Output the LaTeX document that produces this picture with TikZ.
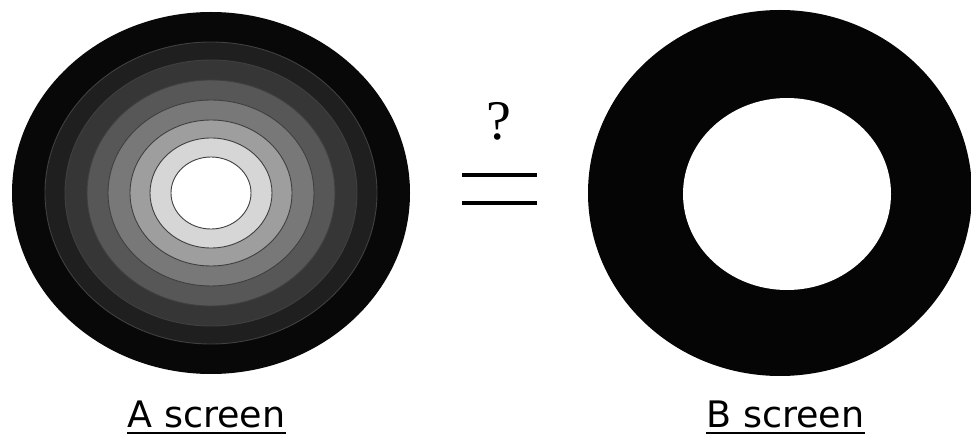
\documentclass[tikz,border=0pt]{standalone}
\usepackage{fontspec}
\setmainfont{Liberation Serif}
\newfontfamily\labelfont{DejaVu Sans}
\begin{document}
\begin{tikzpicture}[x=1pt,y=-1pt,
  ringline/.style={draw=black!75,line width=0.9pt},
  lab/.style={font=\labelfont\fontsize{36.5}{42}\selectfont,inner sep=0pt,anchor=base},
  bar/.style={line width=4pt},
  ul/.style={line width=1.8pt}]
\useasboundingbox (0,0) rectangle (971,435);
\fill[white] (0,0) rectangle (971,435);
% A screen: banded disk
\def\cx{211}\def\cy{193}
\fill[black!97] (\cx,\cy) ellipse [x radius=199pt,y radius=181pt];
\filldraw[fill=black!88,ringline] (\cx,\cy) ellipse [x radius=166pt,y radius=151pt];
\filldraw[fill=black!79,ringline] (\cx,\cy) ellipse [x radius=146pt,y radius=133pt];
\filldraw[fill=black!66,ringline] (\cx,\cy) ellipse [x radius=124pt,y radius=113pt];
\filldraw[fill=black!53,ringline] (\cx,\cy) ellipse [x radius=103pt,y radius=93pt];
\filldraw[fill=black!38,ringline] (\cx,\cy) ellipse [x radius=81pt,y radius=73pt];
\filldraw[fill=black!16,ringline] (\cx,\cy) ellipse [x radius=61pt,y radius=55pt];
\filldraw[fill=white,ringline] (\cx,\cy) ellipse [x radius=40pt,y radius=36pt];
% B screen: annulus
\begin{scope}
\clip (0,0) rectangle (971,435);
\fill[black!98] (780,193) ellipse [x radius=192pt,y radius=183pt];
\fill[white] (787,194) ellipse [x radius=104pt,y radius=96pt];
\end{scope}
% question and equals
\node[font=\fontsize{56}{60}\selectfont,inner sep=0pt,anchor=base] (q) at (499,140) {?};
\coordinate (e1l) at (462,175); \coordinate (e1r) at (537,175);
\coordinate (e2l) at (462,203); \coordinate (e2r) at (537,203);
\draw[bar] (e1l) -- (e1r);
\draw[bar] (e2l) -- (e2r);
% labels
\node[lab] (la) at (206.5,427) {A screen};
\node[lab] (lb) at (785.5,427) {B screen};
\draw[ul] ([yshift=-6pt]la.base west) -- ([yshift=-6pt]la.base east);
\draw[ul] ([yshift=-6pt]lb.base west) -- ([yshift=-6pt]lb.base east);
\end{tikzpicture}
\end{document}
